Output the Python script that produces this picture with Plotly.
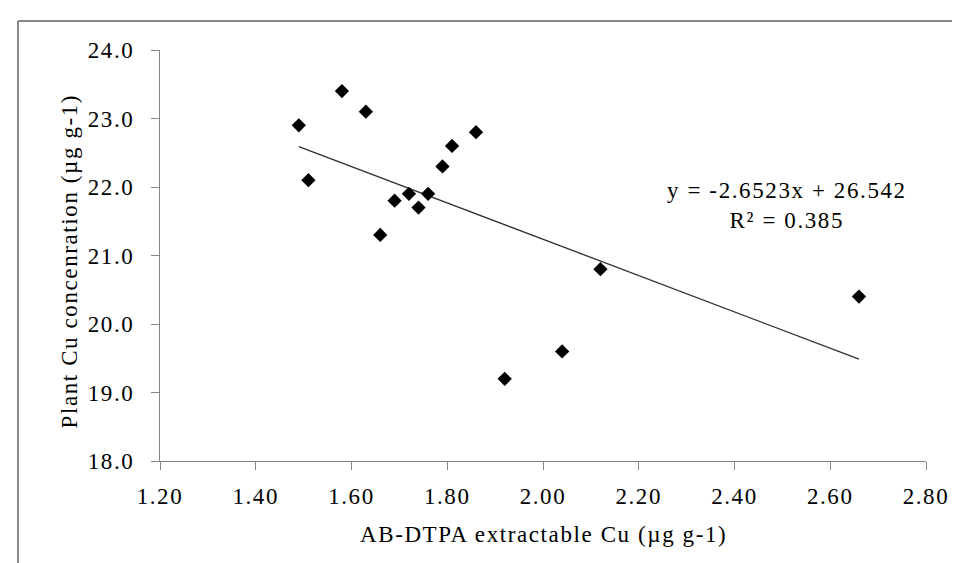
import plotly.graph_objects as go

# Data
x_cu = [1.49, 1.58, 1.63, 1.51, 1.66, 1.69, 1.72, 1.74, 1.76, 1.79, 1.81, 1.86, 1.92, 2.04, 2.12, 2.66]
y_plant = [22.9, 23.4, 23.1, 22.1, 21.3, 21.8, 21.9, 21.7, 21.9, 22.3, 22.6, 22.8, 19.2, 19.6, 20.8, 20.4]

slope = -2.6523
intercept = 26.542
r2_text = "0.385"

x_ticks = [1.20, 1.40, 1.60, 1.80, 2.00, 2.20, 2.40, 2.60, 2.80]
y_ticks = [18.0, 19.0, 20.0, 21.0, 22.0, 23.0, 24.0]

x_title = "AB-DTPA extractable Cu (µg g-1)"
y_title = "Plant Cu concenration (µg g-1)"
eq_text = "y = -2.6523x + 26.542"

FONT = "Liberation Serif, Times New Roman, serif"
FS = 23
AXIS_COLOR = "#868686"


def sp(t):
    return f"<span style='letter-spacing:1.6px'>{t}</span>"


x_line = [min(x_cu), max(x_cu)]
y_line = [slope * v + intercept for v in x_line]

fig = go.Figure()
fig.add_trace(go.Scatter(
    x=x_line, y=y_line, mode="lines",
    line=dict(color="#303030", width=1.3),
    hoverinfo="skip", showlegend=False,
))
fig.add_trace(go.Scatter(
    x=x_cu, y=y_plant, mode="markers",
    marker=dict(symbol="diamond", size=11, color="black"),
    showlegend=False,
))

# plot area pixels: x 152..918, y 42..453
def px_x(p):
    return (p - 152) / 766


def px_y(p):
    return (453 - p) / 411


fig.update_layout(
    width=960, height=563,
    margin=dict(l=152, r=42, t=42, b=110),
    paper_bgcolor="white", plot_bgcolor="white",
    font=dict(family=FONT, color="black"),
    showlegend=False,
    xaxis=dict(
        range=[1.2, 2.8], tickvals=x_ticks,
        ticktext=[sp(f"{v:.2f}") for v in x_ticks],
        showgrid=False, zeroline=False, showline=True,
        linecolor=AXIS_COLOR, linewidth=1,
        ticks="outside", ticklen=8, tickcolor=AXIS_COLOR,
        ticklabelstandoff=6,
        tickfont=dict(size=FS, family=FONT, color="black"),
    ),
    yaxis=dict(
        range=[18, 24], tickvals=y_ticks,
        ticktext=[sp(f"{v:.1f}") for v in y_ticks],
        showgrid=False, zeroline=False, showline=True,
        linecolor=AXIS_COLOR, linewidth=1,
        ticks="outside", ticklen=8, tickcolor=AXIS_COLOR,
        ticklabelstandoff=12,
        tickfont=dict(size=FS, family=FONT, color="black"),
    ),
    annotations=[
        dict(text=sp(x_title), xref="paper", yref="paper",
             x=px_x(535), y=px_y(526), xanchor="center", yanchor="middle", showarrow=False,
             font=dict(size=FS, family=FONT, color="black")),
        dict(text=sp(y_title), xref="paper", yref="paper",
             x=px_x(61), y=px_y(253.5), xanchor="center", yanchor="middle", showarrow=False,
             textangle=-90, font=dict(size=FS, family=FONT, color="black")),
        dict(text=sp(eq_text) + "<br>" + sp("R² = " + r2_text), xref="paper", yref="paper",
             x=px_x(779), y=px_y(197.5), xanchor="center", yanchor="middle", align="center",
             showarrow=False, font=dict(size=FS, family=FONT, color="black")),
    ],
    shapes=[
        dict(type="line", xref="paper", yref="paper",
             x0=px_x(10), x1=1.1, y0=px_y(13), y1=px_y(13),
             line=dict(color="#8a8a8a", width=2)),
        dict(type="line", xref="paper", yref="paper",
             x0=px_x(10), x1=px_x(10), y0=px_y(13), y1=-0.4,
             line=dict(color="#8a8a8a", width=2)),
    ],
)

fig.write_html("out.html")
